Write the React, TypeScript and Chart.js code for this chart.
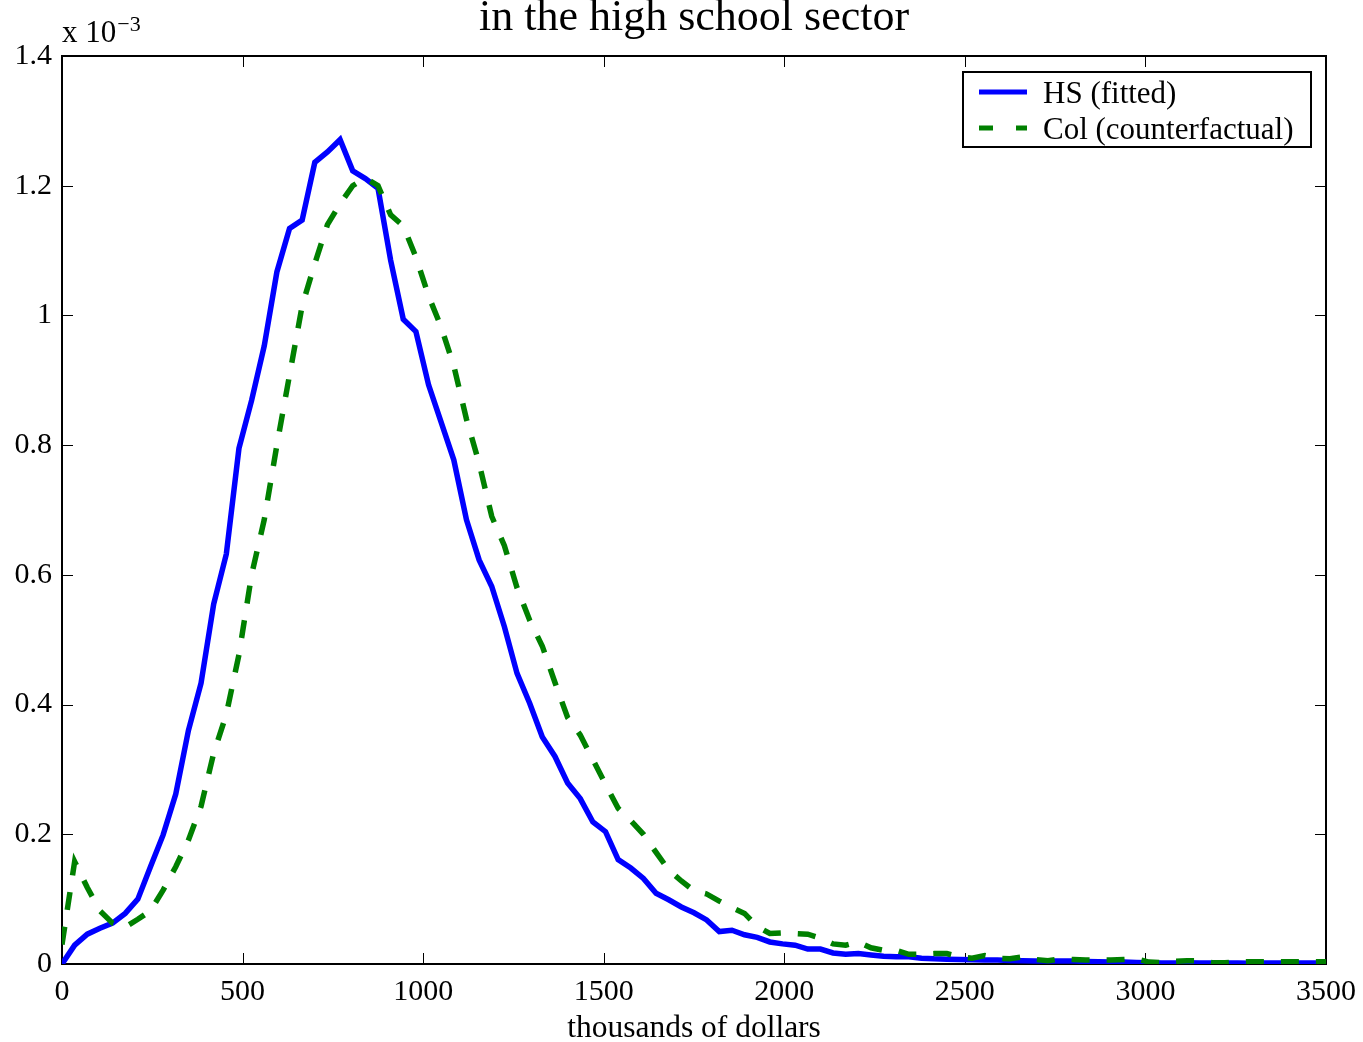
import React, { useEffect, useRef } from "react";
import { Chart, registerables } from "chart.js";

Chart.register(...registerables);

const FONT = "'Liberation Serif', 'Times New Roman', Times, serif";

// income grid step (thousands of dollars)
const X_STEP = 35;

// density (x 10^-3), HS (fitted)
const hsFitted = [
  0, 0.029, 0.046, 0.055, 0.063, 0.078, 0.1, 0.15, 0.199, 0.262,
  0.36, 0.433, 0.555, 0.632, 0.795, 0.869, 0.953, 1.067, 1.134, 1.147,
  1.236, 1.252, 1.271, 1.223, 1.211, 1.196, 1.085, 0.994, 0.975, 0.893,
  0.835, 0.777, 0.685, 0.623, 0.582, 0.52, 0.448, 0.402, 0.35, 0.32,
  0.279, 0.255, 0.219, 0.204, 0.161, 0.148, 0.132, 0.109, 0.099, 0.088,
  0.079, 0.068, 0.05, 0.052, 0.045, 0.041, 0.034, 0.031, 0.029, 0.023,
  0.023, 0.017, 0.015, 0.016, 0.014, 0.012, 0.011, 0.011, 0.009, 0.008,
  0.0075, 0.007, 0.0065, 0.006, 0.006, 0.0055, 0.005, 0.0047, 0.0046, 0.0046,
  0.0045, 0.004, 0.0035, 0.003, 0.003, 0.0025, 0.0018, 0.0015, 0.0015, 0.0018,
  0.0015, 0.0014, 0.0016, 0.0015, 0.0013, 0.0015, 0.0016, 0.0014, 0.0015, 0.0015,
  0.0016,
];

// density (x 10^-3), Col (counterfactual)
const colCounterfactual = [
  0.03, 0.158, 0.118, 0.082, 0.063, 0.057, 0.069, 0.082, 0.114, 0.15,
  0.191, 0.243, 0.325, 0.385, 0.477, 0.6, 0.685, 0.8, 0.908, 1.015,
  1.08, 1.14, 1.172, 1.2, 1.212, 1.2, 1.155, 1.138, 1.09, 1.03,
  0.982, 0.922, 0.84, 0.772, 0.69, 0.645, 0.58, 0.53, 0.49, 0.434,
  0.38, 0.353, 0.315, 0.277, 0.24, 0.221, 0.2, 0.172, 0.145, 0.128,
  0.113, 0.108, 0.097, 0.087, 0.078, 0.058, 0.047, 0.048, 0.047, 0.046,
  0.04, 0.031, 0.029, 0.034, 0.025, 0.021, 0.021, 0.015, 0.015, 0.016,
  0.016, 0.011, 0.009, 0.013, 0.009, 0.008, 0.011, 0.007, 0.005, 0.008,
  0.007, 0.006, 0.006, 0.006, 0.007, 0.008, 0.003, 0.002, 0.004, 0.005,
  0.005, 0.002, 0.002, 0.003, 0.0036, 0.0036, 0.0036, 0.0036, 0.0036, 0.0035,
  0.0035,
];

const xTickValues = [0, 500, 1000, 1500, 2000, 2500, 3000, 3500];
const yTickValues = [0, 0.2, 0.4, 0.6, 0.8, 1, 1.2, 1.4];

const titleText = "in the high school sector";
const xAxisLabel = "thousands of dollars";
const legendLabels = ["HS (fitted)", "Col (counterfactual)"];
const scaleBase = "x 10";
const scaleExp = "\u22123";

const HS_COLOR = "#0000ff";
const COL_COLOR = "#008000";
const COL_DASH = [18, 17];
const LINE_W = 5.5;

const toPoints = (vals: number[]) => vals.map((v, i) => ({ x: i * X_STEP, y: v }));

const framePlugin = {
  id: "matlabFrame",
  beforeDatasetsDraw(chart: any) {
    const { ctx, chartArea, scales } = chart;
    const { left, right, top, bottom } = chartArea;
    const xs = scales.x;
    const ys = scales.y;
    const TL = 11;
    ctx.save();
    ctx.strokeStyle = "#000";
    ctx.lineWidth = 1;
    ctx.beginPath();
    xs.ticks.forEach((t: any) => {
      const px = Math.round(xs.getPixelForValue(t.value)) + 0.5;
      ctx.moveTo(px, bottom);
      ctx.lineTo(px, bottom - TL);
      ctx.moveTo(px, top);
      ctx.lineTo(px, top + TL);
    });
    ys.ticks.forEach((t: any) => {
      const py = Math.round(ys.getPixelForValue(t.value)) + 0.5;
      ctx.moveTo(left, py);
      ctx.lineTo(left + TL, py);
      ctx.moveTo(right, py);
      ctx.lineTo(right - TL, py);
    });
    ctx.stroke();
    ctx.lineWidth = 2;
    ctx.strokeRect(left, top, right - left, bottom - top);
    ctx.restore();
  },
};

const overlayPlugin = {
  id: "matlabOverlay",
  afterDraw(chart: any) {
    const { ctx, chartArea } = chart;
    const { left, right, top } = chartArea;
    ctx.save();
    // exponent label
    ctx.fillStyle = "#000";
    ctx.textAlign = "left";
    ctx.textBaseline = "alphabetic";
    ctx.font = `31px ${FONT}`;
    ctx.fillText(scaleBase, left, 42);
    const w = ctx.measureText(scaleBase).width;
    ctx.font = `22px ${FONT}`;
    ctx.fillText(scaleExp, left + w + 1, 31);

    // legend
    const bx = right - 363;
    const by = top + 16;
    const bw = 348;
    const bh = 75;
    ctx.fillStyle = "#fff";
    ctx.fillRect(bx, by, bw, bh);
    ctx.strokeStyle = "#000";
    ctx.lineWidth = 2;
    ctx.strokeRect(bx, by, bw, bh);

    const rows = [
      { y: by + 20, color: HS_COLOR, dash: [] as number[] },
      { y: by + 56, color: COL_COLOR, dash: [14, 23] },
    ];
    rows.forEach((r, i) => {
      ctx.save();
      ctx.strokeStyle = r.color;
      ctx.lineWidth = 5;
      ctx.lineCap = "butt";
      ctx.setLineDash(r.dash);
      ctx.beginPath();
      ctx.moveTo(bx + 16, r.y);
      ctx.lineTo(bx + 64, r.y);
      ctx.stroke();
      ctx.restore();
      ctx.fillStyle = "#000";
      ctx.font = `31px ${FONT}`;
      ctx.textAlign = "left";
      ctx.textBaseline = "alphabetic";
      ctx.fillText(legendLabels[i], bx + 80, r.y + 11);
    });
    ctx.restore();
  },
};

export default function App() {
  const canvasRef = useRef<HTMLCanvasElement | null>(null);

  useEffect(() => {
    const canvas = canvasRef.current;
    if (!canvas) return;
    const chart = new Chart(canvas, {
      type: "line",
      data: {
        datasets: [
          {
            label: legendLabels[0],
            data: toPoints(hsFitted),
            borderColor: HS_COLOR,
            backgroundColor: HS_COLOR,
            borderWidth: LINE_W,
            pointRadius: 0,
            tension: 0,
            fill: false,
            order: 1,
          },
          {
            label: legendLabels[1],
            data: toPoints(colCounterfactual),
            borderColor: COL_COLOR,
            backgroundColor: COL_COLOR,
            borderWidth: LINE_W,
            borderDash: COL_DASH,
            pointRadius: 0,
            tension: 0,
            fill: false,
            order: 0,
          },
        ],
      },
      options: {
        responsive: false,
        animation: false,
        events: [],
        layout: { padding: { left: 0, right: 37, top: 0, bottom: 0 } },
        plugins: {
          legend: { display: false },
          tooltip: { enabled: false },
          title: {
            display: true,
            text: titleText,
            fullSize: false,
            color: "#000",
            font: { family: FONT, size: 44, weight: "normal", lineHeight: 0.7 },
            padding: { top: 3, bottom: 22.2 },
          },
        },
        scales: {
          x: {
            type: "linear",
            min: 0,
            max: 3500,
            grid: { display: false, drawTicks: false },
            border: { display: false },
            afterBuildTicks: (scale: any) => {
              scale.ticks = xTickValues.map((v) => ({ value: v }));
            },
            afterFit: (scale: any) => {
              scale.height = 78;
              scale.paddingLeft = 0;
              scale.paddingRight = 0;
            },
            ticks: {
              color: "#000",
              padding: 10,
              maxRotation: 0,
              autoSkip: false,
              font: { family: FONT, size: 30 },
              callback: (v: any) => String(v),
            },
            title: {
              display: true,
              text: xAxisLabel,
              color: "#000",
              font: { family: FONT, size: 31.5, lineHeight: 0.8 },
              padding: { top: 0, bottom: 1 },
            },
          },
          y: {
            type: "linear",
            min: 0,
            max: 1.4,
            grid: { display: false, drawTicks: false },
            border: { display: false },
            afterBuildTicks: (scale: any) => {
              scale.ticks = yTickValues.map((v) => ({ value: v }));
            },
            afterFit: (scale: any) => {
              scale.width = 62;
              scale.paddingTop = 0;
              scale.paddingBottom = 0;
            },
            ticks: {
              color: "#000",
              padding: 10,
              autoSkip: false,
              font: { family: FONT, size: 30 },
              callback: (v: any) => String(Number(Number(v).toFixed(1))),
            },
          },
        },
      },
      plugins: [framePlugin, overlayPlugin],
    } as any);
    return () => chart.destroy();
  }, []);

  return (
    <div style={{ position: "fixed", left: 0, top: 0, width: 1363, height: 1042, background: "#fff" }}>
      <canvas ref={canvasRef} width={1363} height={1042} style={{ display: "block" }} />
    </div>
  );
}
